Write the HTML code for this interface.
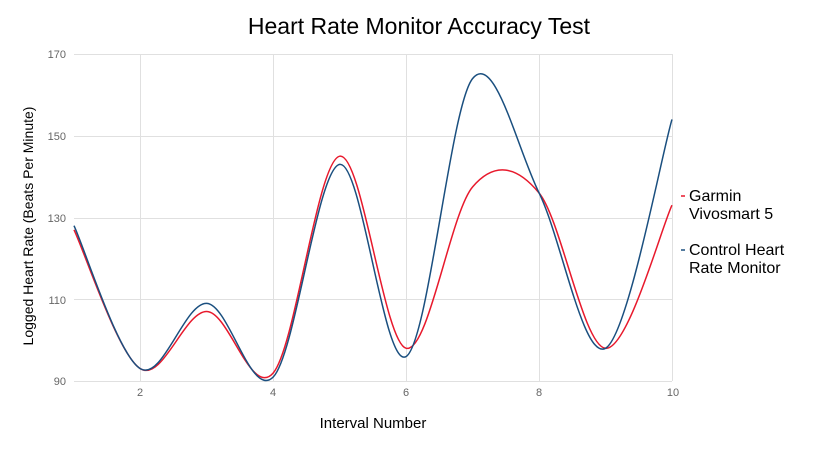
<!DOCTYPE html>
<html><head><meta charset="utf-8"><style>
body{margin:0;background:#fff;width:830px;height:444px;overflow:hidden;font-family:"Liberation Sans",sans-serif}
</style></head><body>
<svg id="s" width="830" height="444" xmlns="http://www.w3.org/2000/svg" font-family="Liberation Sans, sans-serif">
<rect width="830" height="444" fill="#fff"/>
<text x="419" y="34" font-size="23" text-anchor="middle" fill="#000">Heart Rate Monitor Accuracy Test</text>
<g stroke="#e0e0e0" stroke-width="1">
<line x1="74" y1="54.5" x2="672" y2="54.5"/>
<line x1="74" y1="136.5" x2="672" y2="136.5"/>
<line x1="74" y1="218.5" x2="672" y2="218.5"/>
<line x1="74" y1="299.5" x2="672" y2="299.5"/>
<line x1="74" y1="381.5" x2="672" y2="381.5"/>
<line x1="140.5" y1="54" x2="140.5" y2="381"/>
<line x1="273.5" y1="54" x2="273.5" y2="381"/>
<line x1="406.5" y1="54" x2="406.5" y2="381"/>
<line x1="539.5" y1="54" x2="539.5" y2="381"/>
<line x1="672.5" y1="54" x2="672.5" y2="381"/>
</g>
<g font-size="11" fill="#666" text-anchor="end">
<text x="66" y="58">170</text><text x="66" y="140">150</text><text x="66" y="222">130</text><text x="66" y="304">110</text><text x="66" y="385">90</text>
</g>
<g font-size="11" fill="#666" text-anchor="middle">
<text x="140" y="396">2</text><text x="273" y="396">4</text><text x="406" y="396">6</text><text x="539" y="396">8</text><text x="673" y="396">10</text>
</g>
<text x="373" y="428" font-size="15" text-anchor="middle">Interval Number</text>
<text transform="translate(33,226) rotate(-90)" font-size="14" text-anchor="middle">Logged Heart Rate (Beats Per Minute)</text>
<path id="r" fill="none" stroke="#e8192c" stroke-width="1.5"/>
<path id="b" fill="none" stroke="#1a4f7f" stroke-width="1.5"/>
<line x1="681" y1="196" x2="685" y2="196" stroke="#e8192c" stroke-width="1.5"/>
<line x1="681" y1="250" x2="685" y2="250" stroke="#1a4f7f" stroke-width="1.5"/>
<g font-size="16" fill="#000">
<text x="689" y="201">Garmin</text><text x="689" y="219">Vivosmart 5</text>
<text x="689" y="255">Control Heart</text><text x="689" y="273">Rate Monitor</text>
</g>
</svg>
<script>
function px(i){return 74+i*66.44}
function py(v){return 381-(v-90)*4.0875}
function path(d){
 var p=d.map(function(v,i){return [px(i),py(v)]});
 var s="M"+p[0][0]+","+p[0][1];
 for(var i=0;i<p.length-1;i++){
  var p0=p[i-1]||p[i],p1=p[i],p2=p[i+1],p3=p[i+2]||p[i+1];
  var c1=[p1[0]+(p2[0]-p0[0])/6,p1[1]+(p2[1]-p0[1])/6];
  var c2=[p2[0]-(p3[0]-p1[0])/6,p2[1]-(p3[1]-p1[1])/6];
  s+=" C"+c1+" "+c2+" "+p2;
 }
 return s;
}
document.getElementById("r").setAttribute("d",path([127,93,107,92,145,98,137.5,136,98,133]));
document.getElementById("b").setAttribute("d",path([128,93,109,91,143,96,164,136,98,154]));
</script>
</body></html>
